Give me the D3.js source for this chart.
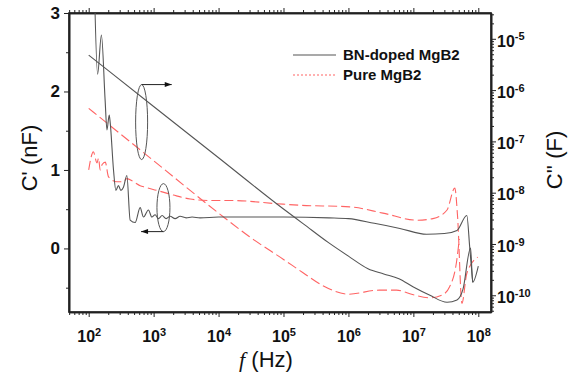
<!DOCTYPE html>
<html>
<head>
<script src="https://d3js.org/d3.v7.min.js"></script>
<style>
  body { margin: 0; background: #fff; }
  svg { font-family: "Liberation Sans", Arial, sans-serif; }
  .axis path, .axis line { stroke: #222; }
  .axis path { stroke-width: 1.6; }
</style>
</head>
<body>
<svg id="chart" width="569" height="376"></svg>
<script>
// ---- data ----
// BN-doped, real part C' (left axis, nF)
const bnRealFreq = [122, 137, 157, 179, 191, 207, 214, 241, 262, 287, 313, 343, 387, 435, 519, 620, 697, 832, 938, 1055, 1186, 1352, 1557, 1795, 2143, 2558, 3162, 3908, 5188, 1e4, 1e5, 5e5, 1e6, 2.5e6, 6.2e6, 1.6e7, 3e7, 4.7e7, 6.65e7, 7.4e7, 8.2e7];
const bnReal     = [3.4, 2.22, 2.72, 1.89, 1.51, 1.70, 1.61, 1.0, 0.74, 0.80, 0.74, 0.78, 0.93, 0.36, 0.33, 0.52, 0.40, 0.49, 0.40, 0.43, 0.38, 0.42, 0.38, 0.41, 0.38, 0.41, 0.39, 0.40, 0.39, 0.40, 0.40, 0.39, 0.38, 0.32, 0.255, 0.18, 0.19, 0.23, 0.42, 0.0, -0.43];

// BN-doped, imaginary part C'' (right axis, F)
const bnImagFreq = [100, 1e3, 1e4, 1e5, 2e5, 5e5, 1e6, 2e6, 3.5e6, 6e6, 1e7, 1.8e7, 3.3e7, 4.7e7, 5.8e7, 7.6e7, 8.2e7, 1e8];
const bnImag     = [4.8e-6, 4.8e-7, 4.8e-8, 4.8e-9, 2.5e-9, 1.05e-9, 5.8e-10, 3.3e-10, 2.6e-10, 2.1e-10, 1.45e-10, 1.0e-10, 7.3e-11, 8.1e-11, 1.3e-10, 8.3e-10, 1.8e-10, 3.7e-10];

// Pure, real part C' (left axis, nF)
const pureRealFreq = [100, 118, 134, 142, 150, 161, 180, 200, 214, 272, 343, 387, 489, 620, 740, 1120, 2018, 3650, 7400, 1.67e4, 7.85e4, 1.8e5, 1.05e6, 3.4e6, 1.13e7, 2e7, 3.3e7, 4.35e7, 4.8e7, 5.6e7, 6.65e7, 9.8e7];
const pureReal     = [1.0, 1.23, 1.09, 1.15, 1.0, 1.07, 1.10, 0.92, 0.89, 0.85, 0.85, 0.89, 0.85, 0.80, 0.78, 0.74, 0.68, 0.63, 0.61, 0.61, 0.57, 0.55, 0.53, 0.45, 0.36, 0.38, 0.49, 0.77, 0.40, -0.70, -0.32, -0.11];

// Pure, imaginary part C'' (right axis, F)
const pureImagFreq = [100, 1e3, 1e4, 3e4, 1e5, 2e5, 4e5, 1e6, 3e6, 5.5e6, 1e7, 1.8e7, 2.8e7, 3.6e7, 4.6e7, 5.1e7];
const pureImag     = [4.4e-7, 4.2e-8, 4.0e-9, 1.38e-9, 5.0e-10, 2.75e-10, 1.55e-10, 1.05e-10, 1.26e-10, 1.26e-10, 1.02e-10, 8.9e-11, 1.02e-10, 1.45e-10, 4.3e-10, 1.25e-9];

const xMajor = [1e2, 1e3, 1e4, 1e5, 1e6, 1e7, 1e8];
const leftMajor = [0, 1, 2, 3];
const leftMinor = [-0.5, 0.5, 1.5, 2.5];
const rightMajor = [1e-10, 1e-9, 1e-8, 1e-7, 1e-6, 1e-5];
const legendLabels = ["BN-doped MgB2", "Pure MgB2"];

// ---- layout ----
const svg = d3.select("#chart");
const L = 69, R = 491, T = 13, B = 312;
const grey = "#555", red = "#ff6464";

const x = d3.scaleLog().domain([Math.pow(10, 1.6966), Math.pow(10, 8.1956)]).range([L, R]);
const yL = d3.scaleLinear().domain([-0.81, 3]).range([B, T]);
const yR = d3.scaleLog().domain([Math.pow(10, -10.326), Math.pow(10, -4.497)]).range([B, T]);

// minor ticks for log axes
function logMinors(scale) {
  const [a, b] = scale.domain();
  const out = [];
  for (let e = Math.floor(Math.log10(a)); e <= Math.ceil(Math.log10(b)); e++) {
    for (let k = 2; k <= 9; k++) {
      const v = k * Math.pow(10, e);
      if (v > a && v < b) out.push(v);
    }
  }
  return out;
}

function supLabel(sel, exp) {
  sel.text(null);
  sel.append("tspan").text("10");
  sel.append("tspan").attr("dy", "-0.55em").attr("font-size", "11px").text(exp);
}

svg.append("defs").append("clipPath").attr("id", "plotclip")
  .append("rect").attr("x", L).attr("y", T).attr("width", R - L).attr("height", B - T);

// bottom axis
svg.append("g").attr("class", "axis").attr("transform", `translate(0,${B})`)
  .call(d3.axisBottom(x).tickValues(logMinors(x)).tickSize(3).tickSizeOuter(0).tickFormat(""));
const gx2 = svg.append("g").attr("class", "axis").attr("transform", `translate(0,${B})`)
  .call(d3.axisBottom(x).tickValues(xMajor).tickSize(5).tickSizeOuter(0));
gx2.selectAll("text")
  .attr("y", 20).attr("dy", "0.6em")
  .attr("font-size", "16px").attr("font-weight", "bold").attr("fill", "#111")
  .attr("font-family", "Liberation Sans, Arial, sans-serif")
  .each(function (d) { supLabel(d3.select(this), Math.round(Math.log10(d))); });

// top axis (ticks only)
svg.append("g").attr("class", "axis").attr("transform", `translate(0,${T})`)
  .call(d3.axisTop(x).tickValues(logMinors(x)).tickSize(3).tickSizeOuter(0).tickFormat(""));
svg.append("g").attr("class", "axis").attr("transform", `translate(0,${T})`)
  .call(d3.axisTop(x).tickValues(xMajor).tickSize(5).tickSizeOuter(0).tickFormat(""));

// left axis
svg.append("g").attr("class", "axis").attr("transform", `translate(${L},0)`)
  .call(d3.axisLeft(yL).tickValues(leftMinor).tickSize(3).tickSizeOuter(0).tickFormat(""));
const gl = svg.append("g").attr("class", "axis").attr("transform", `translate(${L},0)`)
  .call(d3.axisLeft(yL).tickValues(leftMajor).tickSize(5).tickSizeOuter(0).tickFormat(d3.format("d")));
gl.selectAll("text").attr("x", -9)
  .attr("font-size", "17px").attr("font-weight", "bold").attr("fill", "#111")
  .attr("font-family", "Liberation Sans, Arial, sans-serif");

// right axis
svg.append("g").attr("class", "axis").attr("transform", `translate(${R},0)`)
  .call(d3.axisRight(yR).tickValues(logMinors(yR)).tickSize(3).tickSizeOuter(0).tickFormat(""));
const gr = svg.append("g").attr("class", "axis").attr("transform", `translate(${R},0)`)
  .call(d3.axisRight(yR).tickValues(rightMajor).tickSize(5).tickSizeOuter(0));
gr.selectAll("text").attr("x", 6).attr("dy", "0.45em")
  .attr("font-size", "16px").attr("font-weight", "bold").attr("fill", "#111")
  .attr("font-family", "Liberation Sans, Arial, sans-serif")
  .each(function (d) { supLabel(d3.select(this), Math.round(Math.log10(d))); });

// frame lines
svg.append("rect").attr("x", L).attr("y", T).attr("width", R - L).attr("height", B - T)
  .attr("fill", "none").attr("stroke", "#222").attr("stroke-width", 1.6);

// ---- curves ----
const plot = svg.append("g").attr("clip-path", "url(#plotclip)");
function drawCurve(freqs, vals, yScale, color, dash) {
  const pts = freqs.map((f, i) => [f, vals[i]]);
  const line = d3.line().x(d => x(d[0])).y(d => yScale(d[1])).curve(d3.curveMonotoneX);
  plot.append("path").datum(pts)
    .attr("d", line)
    .attr("fill", "none")
    .attr("stroke", color)
    .attr("stroke-width", 1.1)
    .attr("stroke-dasharray", dash);
}
drawCurve(pureRealFreq, pureReal, yL, red, "9,4");
drawCurve(pureImagFreq, pureImag, yR, red, "10,4");
drawCurve(bnRealFreq, bnReal, yL, grey, null);
drawCurve(bnImagFreq, bnImag, yR, grey, null);

// ---- annotations: ellipses with arrows ----
function arrow(x1, y1, x2, dir) {
  svg.append("line").attr("x1", x1).attr("y1", y1).attr("x2", x2).attr("y2", y1)
    .attr("stroke", "#222").attr("stroke-width", 1);
  const h = 7 * dir;
  svg.append("path")
    .attr("d", `M${x2},${y1} L${x2 - h},${y1 - 2.5} L${x2 - h},${y1 + 2.5} Z`)
    .attr("fill", "#111");
}
svg.append("ellipse").attr("cx", x(653)).attr("cy", yL(1.61)).attr("rx", 6).attr("ry", 37.5)
  .attr("fill", "none").attr("stroke", grey).attr("stroke-width", 1);
arrow(x(653), yL(1.61) - 37.5, x(1900), 1);
svg.append("ellipse").attr("cx", x(1416)).attr("cy", yL(0.52)).attr("rx", 6.5).attr("ry", 24)
  .attr("fill", "none").attr("stroke", grey).attr("stroke-width", 1);
arrow(x(1416), yL(0.52) + 24, x(640), -1);

// ---- legend ----
const leg = svg.append("g").attr("transform", "translate(293,55)");
leg.append("line").attr("x1", 0).attr("x2", 43).attr("y1", 0).attr("y2", 0)
  .attr("stroke", grey).attr("stroke-width", 1.1);
leg.append("line").attr("x1", 0).attr("x2", 43).attr("y1", 20).attr("y2", 20)
  .attr("stroke", red).attr("stroke-width", 1.1).attr("stroke-dasharray", "2,2");
leg.selectAll("text.lg").data(legendLabels).enter().append("text")
  .attr("x", 50).attr("y", (d, i) => i * 20 + 5)
  .attr("font-size", "15px").attr("font-weight", "bold").attr("fill", "#111")
  .text(d => d);

// ---- axis titles ----
const xt = svg.append("text").attr("x", 266).attr("y", 367).attr("text-anchor", "middle")
  .attr("font-size", "22px").attr("fill", "#111");
xt.append("tspan").attr("font-style", "italic").attr("font-family", "Liberation Serif, serif").text("f");
xt.append("tspan").text(" (Hz)");

svg.append("text").attr("transform", "translate(37,158) rotate(-90)").attr("text-anchor", "middle")
  .attr("font-size", "22px").attr("fill", "#111").text("C' (nF)");
svg.append("text").attr("transform", "translate(562,160) rotate(-90)").attr("text-anchor", "middle")
  .attr("font-size", "22px").attr("fill", "#111").text("C'' (F)");
</script>
</body>
</html>
